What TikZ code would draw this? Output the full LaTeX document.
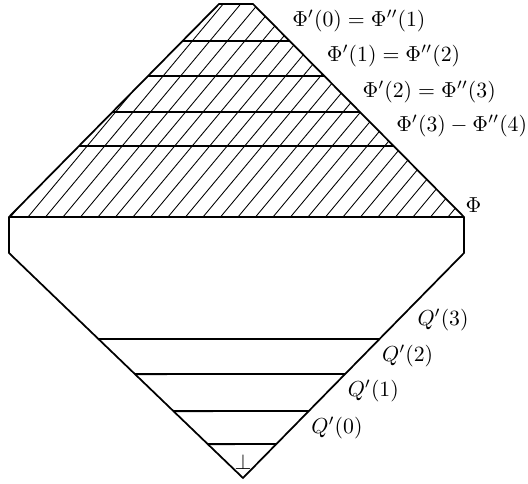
\documentclass[tikz,border=0pt]{standalone}
\usetikzlibrary{calc}
\tikzset{
  edge/.style={line width=0.8pt, line join=miter},
  level/.style={line width=0.9pt},
  hatch/.style={line width=0.4pt},
  lab/.style={inner sep=0pt, font=\normalsize}}

\begin{document}
\begin{tikzpicture}[x=0.46pt, y=-0.46pt]
  \useasboundingbox (0,0) rectangle (528,484);
  \coordinate (tl) at (219,4);
  \coordinate (tr) at (253,4);
  \coordinate (lv) at (9,217);
  \coordinate (rv) at (464,217);
  \coordinate (lb) at (9,253);
  \coordinate (rb) at (464,253);
  \coordinate (bot) at (243,478);
  % hatching above Phi
  \begin{scope}
    \clip (lv) -- (tl) -- (tr) -- (rv) -- cycle;
    \foreach \i in {0,...,26}
      \draw[hatch] (10.5+17.5*\i,217) -- ++(181,-217);
  \end{scope}
  \draw[edge] (lv) -- (tl) -- (tr) -- (rv) -- (rb) -- (bot) -- (lb) -- cycle;
  \draw[level] (lv) -- (rv);
  % the Phi' levels
  \foreach \y/\k in {41/0,76/1,112/2,146/3}
    \draw[level] (intersection of lv--tl and 0,\y--1,\y)
      -- (intersection of tr--rv and 0,\y--1,\y) coordinate (p\k);
  % the Q' levels
  \foreach \y/\k in {339/2,374/1,411/0,444/b}
    \draw[level] (intersection of lb--bot and 0,\y--1,\y)
      -- (intersection of rb--bot and 0,\y--1,\y) coordinate (q\k);
  \coordinate (q3) at (intersection of rb--bot and 0,303--1,303);
  \node[lab, anchor=south west, xshift=1pt, yshift=4pt] (phi0) at (p0) {$\Phi'(0)=\Phi''(1)$};
  \node[lab, anchor=south west, xshift=1pt, yshift=4pt] (phi1) at (p1) {$\Phi'(1)=\Phi''(2)$};
  \node[lab, anchor=south west, xshift=1pt, yshift=4pt] (phi2) at (p2) {$\Phi'(2)=\Phi''(3)$};
  \node[lab, anchor=south west, xshift=1pt, yshift=4pt] (phi3) at (p3) {$\Phi'(3)-\Phi''(4)$};
  \node[lab, anchor=south west, xshift=0.5pt, yshift=2pt] (philab) at (rv) {$\Phi$};
  \node[lab, anchor=north west, xshift=1pt, yshift=-2.5pt] (qlab3) at (q3) {$Q'(3)$};
  \node[lab, anchor=north west, xshift=1pt, yshift=-2.5pt] (qlab2) at (q2) {$Q'(2)$};
  \node[lab, anchor=north west, xshift=1pt, yshift=-2.5pt] (qlab1) at (q1) {$Q'(1)$};
  \node[lab, anchor=north west, xshift=1pt, yshift=-2.5pt] (qlab0) at (q0) {$Q'(0)$};
  \node[lab] (bottom) at (243,462) {$\bot$};
\end{tikzpicture}
\end{document}
